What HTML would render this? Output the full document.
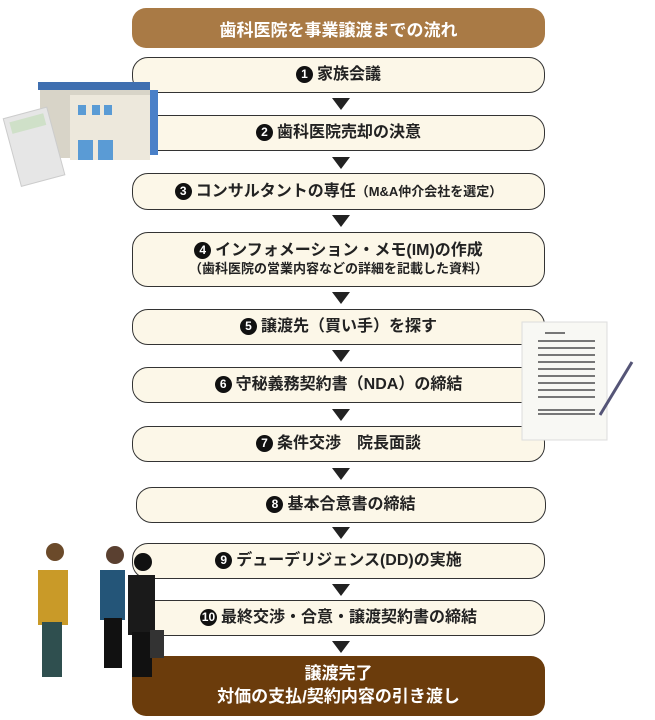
<!DOCTYPE html>
<html><head><meta charset="utf-8"><style>
*{margin:0;padding:0;box-sizing:border-box}
body{width:655px;height:720px;background:#fff;position:relative;overflow:hidden;font-family:"Liberation Sans","Noto Sans CJK JP",sans-serif}
.b{position:absolute;left:132px;width:413px;background:#fcf7e8;border:1.5px solid #333;border-radius:16px;display:flex;flex-direction:column;align-items:center;justify-content:center;font-size:16px;color:#222;font-weight:bold;line-height:1.25}
.n{display:inline-block;width:17px;height:17px;border-radius:50%;background:#111;color:#fff;font-size:12px;text-align:center;line-height:17px;margin-right:4px;vertical-align:1px}
.a{position:absolute;left:332px;width:0;height:0;border-left:9px solid transparent;border-right:9px solid transparent;border-top:12px solid #222}
.t{position:absolute;left:132px;top:8px;width:413px;height:40px;background:#a97a45;border-radius:14px;color:#fff;font-weight:bold;font-size:17px;display:flex;align-items:center;justify-content:center}
.f{position:absolute;left:132px;top:656px;width:413px;height:60px;background:#6b3c0c;border-radius:14px;color:#fff;font-weight:bold;font-size:17px;display:flex;flex-direction:column;align-items:center;justify-content:center;line-height:1.35}
small{font-size:13px}
</style></head><body>
<div class="t">歯科医院を事業譲渡までの流れ</div>
<div class="b" style="top:57px;height:36px"><div><span class="n">1</span>家族会議</div></div>
<div class="a" style="top:98px"></div>
<div class="b" style="top:115px;height:36px"><div><span class="n">2</span>歯科医院売却の決意</div></div>
<div class="a" style="top:157px"></div>
<div class="b" style="top:173px;height:37px"><div><span class="n">3</span>コンサルタントの専任<small>（M&amp;A仲介会社を選定）</small></div></div>
<div class="a" style="top:215px"></div>
<div class="b" style="top:232px;height:55px"><div><span class="n">4</span>インフォメーション・メモ(IM)の作成</div><small>（歯科医院の営業内容などの詳細を記載した資料）</small></div>
<div class="a" style="top:292px"></div>
<div class="b" style="top:309px;height:36px"><div><span class="n">5</span>譲渡先（買い手）を探す</div></div>
<div class="a" style="top:350px"></div>
<div class="b" style="top:367px;height:36px"><div><span class="n">6</span>守秘義務契約書（NDA）の締結</div></div>
<div class="a" style="top:409px"></div>
<div class="b" style="top:426px;height:36px"><div><span class="n">7</span>条件交渉　院長面談</div></div>
<div class="a" style="top:468px"></div>
<div class="b" style="top:487px;height:36px;left:136px;width:410px"><div><span class="n">8</span>基本合意書の締結</div></div>
<div class="a" style="top:527px"></div>
<div class="b" style="top:543px;height:36px"><div><span class="n">9</span>デューデリジェンス(DD)の実施</div></div>
<div class="a" style="top:584px"></div>
<div class="b" style="top:600px;height:36px"><div><span class="n">10</span>最終交渉・合意・譲渡契約書の締結</div></div>
<div class="a" style="top:641px"></div>
<div class="f"><div>譲渡完了</div><div>対価の支払/契約内容の引き渡し</div></div>
<svg style="position:absolute;left:0;top:0" width="655" height="720">
<rect x="40" y="88" width="110" height="70" fill="#d8d4c8"/>
<rect x="38" y="82" width="112" height="8" fill="#3f6fb0"/>
<rect x="70" y="95" width="80" height="65" fill="#ede8dc"/>
<rect x="78" y="105" width="8" height="10" fill="#5a9bd5"/><rect x="92" y="105" width="8" height="10" fill="#5a9bd5"/><rect x="104" y="105" width="8" height="10" fill="#5a9bd5"/>
<rect x="78" y="140" width="15" height="20" fill="#5a9bd5"/><rect x="98" y="140" width="15" height="20" fill="#5a9bd5"/>
<rect x="150" y="90" width="8" height="65" fill="#4a80c8"/>
<g transform="rotate(-15 40 140)"><rect x="10" y="110" width="45" height="70" fill="#e6e6e6" stroke="#ccc"/><rect x="15" y="115" width="35" height="12" fill="#cfe0c8"/></g>
<rect x="522" y="322" width="85" height="118" fill="#f8f8f4" stroke="#ddd"/>
<g stroke="#777" stroke-width="2"><line x1="545" y1="333" x2="565" y2="333"/>
<line x1="538" y1="341" x2="595" y2="341"/><line x1="538" y1="348" x2="595" y2="348"/><line x1="538" y1="355" x2="595" y2="355"/><line x1="538" y1="362" x2="595" y2="362"/><line x1="538" y1="369" x2="595" y2="369"/><line x1="538" y1="376" x2="595" y2="376"/><line x1="538" y1="383" x2="595" y2="383"/><line x1="538" y1="390" x2="595" y2="390"/><line x1="538" y1="397" x2="595" y2="397"/><line x1="538" y1="410" x2="595" y2="410"/><line x1="538" y1="414" x2="595" y2="414"/></g>
<line x1="600" y1="415" x2="632" y2="362" stroke="#557" stroke-width="3"/>
<circle cx="55" cy="552" r="9" fill="#6b4a2a"/><path d="M38 570 h30 v55 h-30z" fill="#c99a28"/><rect x="42" y="622" width="20" height="55" fill="#2f4f4f"/>
<circle cx="115" cy="555" r="9" fill="#5a4030"/><path d="M100 570 h25 v50 h-25z" fill="#245578"/><rect x="104" y="618" width="18" height="50" fill="#111"/>
<circle cx="143" cy="562" r="9" fill="#111"/><path d="M128 575 h27 v60 h-27z" fill="#1a1a1a"/><rect x="132" y="632" width="20" height="45" fill="#111"/><rect x="150" y="630" width="14" height="28" fill="#333"/>
</svg>
</body></html>
